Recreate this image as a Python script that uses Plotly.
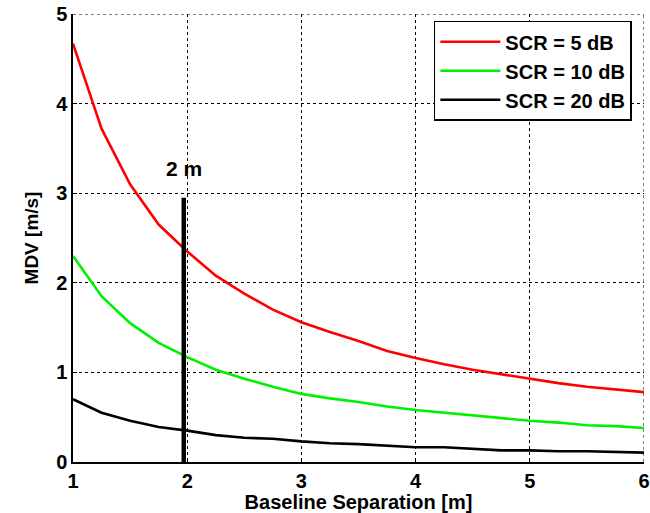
import plotly.graph_objects as go

baseline = [1, 1.25, 1.5, 1.75, 2, 2.25, 2.5, 2.75, 3, 3.25, 3.5, 3.75, 4,
            4.25, 4.5, 4.75, 5, 5.25, 5.5, 5.75, 6]
mdv_5db = [4.67, 3.72, 3.10, 2.65, 2.35, 2.08, 1.88, 1.70, 1.56, 1.45, 1.35, 1.24, 1.16,
           1.09, 1.03, 0.98, 0.93, 0.88, 0.84, 0.81, 0.78]
mdv_10db = [2.30, 1.85, 1.55, 1.33, 1.17, 1.03, 0.93, 0.84, 0.76, 0.71, 0.67, 0.62, 0.58,
            0.55, 0.52, 0.49, 0.46, 0.44, 0.41, 0.40, 0.38]
mdv_20db = [0.70, 0.55, 0.46, 0.39, 0.35, 0.30, 0.27, 0.26, 0.23, 0.21, 0.20, 0.18, 0.165,
            0.165, 0.15, 0.13, 0.13, 0.12, 0.12, 0.115, 0.105]
marker_x = [1.97, 1.97]
marker_y = [0, 2.95]
marker_label = "2 m"
x_ticks = [1, 2, 3, 4, 5, 6]
y_ticks = [0, 1, 2, 3, 4, 5]

FONT = "Liberation Sans"

fig = go.Figure()
fig.add_trace(go.Scatter(x=baseline, y=mdv_5db, mode="lines", name="<b>SCR = 5 dB</b>",
                         line=dict(color="#ff0000", width=2.6)))
fig.add_trace(go.Scatter(x=baseline, y=mdv_10db, mode="lines", name="<b>SCR = 10 dB</b>",
                         line=dict(color="#00f000", width=2.6)))
fig.add_trace(go.Scatter(x=baseline, y=mdv_20db, mode="lines", name="<b>SCR = 20 dB</b>",
                         line=dict(color="#000000", width=2.6)))
fig.add_trace(go.Scatter(x=marker_x, y=marker_y, mode="lines", showlegend=False,
                         line=dict(color="#000000", width=4.5)))
fig.add_annotation(x=marker_x[0] + 0.0, y=3.28, text="<b>" + marker_label + "</b>",
                   showarrow=False, font=dict(family=FONT, size=21, color="black"))

# top and right dotted border (MATLAB-style grid edge)
fig.add_shape(type="line", xref="x", yref="y", x0=1, x1=6, y0=5, y1=5,
              line=dict(color="black", width=1, dash="dot"))
fig.add_shape(type="line", xref="x", yref="y", x0=6, x1=6, y0=0, y1=5,
              line=dict(color="black", width=1, dash="dot"))

fig.update_layout(
    width=650, height=513,
    margin=dict(l=73, r=6, t=14, b=51),
    paper_bgcolor="white", plot_bgcolor="white",
    font=dict(family=FONT, size=19, color="black"),
    showlegend=True,
    legend=dict(x=0.632, y=0.985, xanchor="left", yanchor="top",
                bgcolor="white", bordercolor="black", borderwidth=1.5,
                font=dict(family=FONT, size=20, color="black"),
                tracegroupgap=0, itemwidth=60),
)
fig.update_xaxes(range=[1, 6], tickvals=x_ticks, ticktext=[f"<b>{v}</b>" for v in x_ticks],
                 showline=True, linecolor="black", linewidth=1.5, automargin=False,
                 ticklabeloverflow="allow",
                 showgrid=True, gridcolor="black", griddash="dot", gridwidth=1,
                 zeroline=False, ticks="inside", ticklen=4, tickcolor="black",
                 tickfont=dict(family=FONT, size=20),
                 title=dict(text="<b>Baseline Separation [m]</b>", font=dict(family=FONT, size=20),
                            standoff=2))
fig.update_yaxes(range=[0, 5], tickvals=y_ticks, ticktext=[f"<b>{v}</b>" for v in y_ticks],
                 showline=True, linecolor="black", linewidth=1.5, automargin=False,
                 ticklabeloverflow="allow",
                 showgrid=True, gridcolor="black", griddash="dot", gridwidth=1,
                 zeroline=False, ticks="inside", ticklen=4, tickcolor="black",
                 tickfont=dict(family=FONT, size=20),
                 title=dict(text="<b>MDV [m/s]</b>", font=dict(family=FONT, size=19),
                            standoff=12))

fig.write_html("out.html", config={"displayModeBar": False},
               post_script="document.body.style.margin='0';document.body.style.overflow='hidden';")
